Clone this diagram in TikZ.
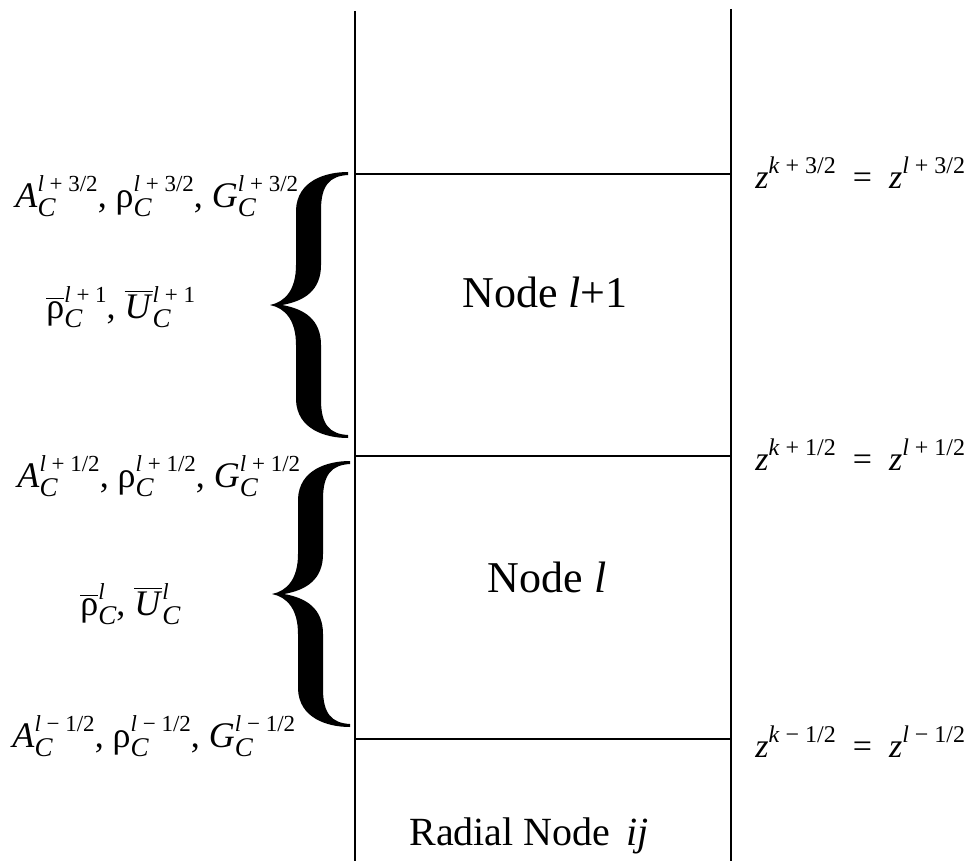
\documentclass[tikz,border=0pt]{standalone}
\usepackage{fontspec}
\setmainfont{Liberation Serif}
\newsavebox\supbox
\newsavebox\subbox
\newcommand\subf{\fontsize{13.5}{14}\selectfont\itshape}
\newcommand\supf{\fontsize{11.5}{12}\selectfont}
\newcommand\zsupf{\fontsize{12}{12}\selectfont}
% base with subscript and superscript stacked
\newcommand\Sb[3]{#1\sbox\subbox{\raisebox{-0.26em}{\subf #2}}\sbox\supbox{\raisebox{0.42em}{\supf #3}}\ifdim\wd\subbox>\wd\supbox\rlap{\usebox\supbox}\usebox\subbox\else\rlap{\usebox\subbox}\usebox\supbox\fi}
\newcommand\Sp[2]{#1\raisebox{0.42em}{\zsupf #2}}
\newcommand\Ov[1]{\ensuremath{\overline{\hbox{#1}}}}
\begin{document}
\begin{tikzpicture}[x=0.5pt,y=-0.5pt,
  rule/.style={line width=1pt, line cap=butt},
  lab/.style={inner sep=0pt, anchor=base west, font={\fontsize{18}{21}\selectfont}},
  zlab/.style={inner sep=0pt, anchor=base west, font={\fontsize{17}{20}\selectfont}},
  big/.style={inner sep=0pt, anchor=base, font={\fontsize{22}{26}\selectfont}},
  radial/.style={inner sep=0pt, anchor=base, font={\fontsize{20}{24}\selectfont}},
  bigbrace/.pic={
    \fill[black] (78,-133) .. controls (55,-133) and (27,-124) .. (26,-95)
      -- (26,-40) .. controls (26,-15) and (15,-3) .. (0,0)
      .. controls (15,3) and (26,15) .. (26,40)
      -- (26,95) .. controls (27,124) and (55,133) .. (78,133)
      -- (78,130) .. controls (60,129) and (51,120) .. (51,95)
      -- (51,40) .. controls (51,15) and (35,4) .. (12,0)
      .. controls (35,-4) and (51,-15) .. (51,-40)
      -- (51,-95) .. controls (51,-120) and (60,-129) .. (78,-130) -- cycle;
  }]
\useasboundingbox (0,0) rectangle (972,861);
% frame lines
\coordinate (TL) at (355,11);
\coordinate (BL) at (355,861);
\coordinate (TR) at (731,9);
\coordinate (BR) at (731,861);
\coordinate (h1l) at (355,174); \coordinate (h1r) at (731,174);
\coordinate (h2l) at (355,456); \coordinate (h2r) at (731,456);
\coordinate (h3l) at (355,739); \coordinate (h3r) at (731,739);
\draw[rule] (TL) -- (BL);
\draw[rule] (TR) -- (BR);
\draw[rule] (h1l) -- (h1r);
\draw[rule] (h2l) -- (h2r);
\draw[rule] (h3l) -- (h3r);
% braces
\pic at (270,305) {bigbrace};
\pic at (272,594) {bigbrace};
% left labels
\node[lab] (a1) at (15,207) {\Sb{\textit{A}}{C}{\textit{l} + 3/2}, \Sb{ρ}{C}{\textit{l} + 3/2}, \Sb{\textit{G}}{C}{\textit{l} + 3/2}};
\node[lab] (r1) at (46,318) {\Sb{\Ov{ρ}}{C}{\textit{l} + 1}, \Sb{\Ov{\textit{U}}}{C}{\textit{l} + 1}};
\node[lab] (a2) at (17,487) {\Sb{\textit{A}}{C}{\textit{l} + 1/2}, \Sb{ρ}{C}{\textit{l} + 1/2}, \Sb{\textit{G}}{C}{\textit{l} + 1/2}};
\node[lab] (r2) at (80,615) {\Sb{\Ov{ρ}}{C}{\textit{l}}, \Sb{\Ov{\textit{U}}}{C}{\textit{l}}};
\node[lab] (a3) at (12,747) {\Sb{\textit{A}}{C}{\textit{l} − 1/2}, \Sb{ρ}{C}{\textit{l} − 1/2}, \Sb{\textit{G}}{C}{\textit{l} − 1/2}};
% right labels
\node[zlab] (z1) at (755,188) {\Sp{\textit{z}}{\textit{k} + 3/2}\enspace=\enspace\Sp{\textit{z}}{\textit{l} + 3/2}};
\node[zlab] (z2) at (755,470) {\Sp{\textit{z}}{\textit{k} + 1/2}\enspace=\enspace\Sp{\textit{z}}{\textit{l} + 1/2}};
\node[zlab] (z3) at (755,757) {\Sp{\textit{z}}{\textit{k} − 1/2}\enspace=\enspace\Sp{\textit{z}}{\textit{l} − 1/2}};
% node names
\node[big] (n1) at (545,307) {Node \textit{l}+1};
\node[big] (n2) at (547,592) {Node \textit{l}};
\node[radial] (n3) at (529,845) {Radial Node\hspace{0.4em}\textit{ij}};
\end{tikzpicture}
\end{document}
